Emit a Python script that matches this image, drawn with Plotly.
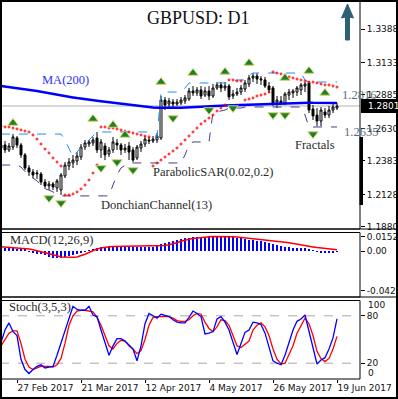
import plotly.graph_objects as go
import pandas as pd

W, H = 398, 399

# ---------------- data ----------------
dates = [d.strftime("%Y-%m-%d") for d in pd.bdate_range("2017-02-21", periods=85)]
tick_dates = ["2017-02-27", "2017-03-21", "2017-04-12", "2017-05-04", "2017-05-26", "2017-06-19"]
tick_labels = ["27 Feb 2017", "21 Mar 2017", "12 Apr 2017", "4 May 2017", "26 May 2017", "19 Jun 2017"]

open_ = [1.2482, 1.2505, 1.2467, 1.2489, 1.2558, 1.2505, 1.2429, 1.2330, 1.2299, 1.2284,
         1.2284, 1.2223, 1.2193, 1.2208, 1.2177, 1.2162, 1.2269, 1.2345, 1.2368, 1.2383,
         1.2413, 1.2489, 1.2512, 1.2520, 1.2558, 1.2467, 1.2497, 1.2436, 1.2467, 1.2520,
         1.2505, 1.2467, 1.2497, 1.2467, 1.2406, 1.2482, 1.2512, 1.2543, 1.2535, 1.2543,
         1.2558, 1.2847, 1.2817, 1.2832, 1.2817, 1.2825, 1.2840, 1.2855, 1.2916, 1.2901,
         1.2924, 1.2885, 1.2916, 1.2878, 1.2939, 1.2962, 1.2939, 1.2954, 1.2878, 1.2893,
         1.2908, 1.2931, 1.2969, 1.3015, 1.3030, 1.3000, 1.3000, 1.2954, 1.2939, 1.2825,
         1.2840, 1.2825, 1.2885, 1.2901, 1.2908, 1.2924, 1.2954, 1.2977, 1.2779, 1.2733,
         1.2687, 1.2756, 1.2733, 1.2771, 1.2786]
high = [1.2543, 1.2535, 1.2520, 1.2588, 1.2573, 1.2520, 1.2444, 1.2352, 1.2322, 1.2314,
        1.2299, 1.2246, 1.2231, 1.2223, 1.2246, 1.2291, 1.2375, 1.2406, 1.2429, 1.2451,
        1.2512, 1.2543, 1.2543, 1.2566, 1.2604, 1.2550, 1.2520, 1.2489, 1.2566, 1.2550,
        1.2520, 1.2512, 1.2528, 1.2489, 1.2505, 1.2535, 1.2573, 1.2566, 1.2573, 1.2596,
        1.2878, 1.2870, 1.2863, 1.2855, 1.2855, 1.2870, 1.2885, 1.2939, 1.2954, 1.2946,
        1.2954, 1.2946, 1.2954, 1.2969, 1.2984, 1.2984, 1.2984, 1.2969, 1.2924, 1.2939,
        1.2962, 1.3000, 1.3038, 1.3053, 1.3053, 1.3030, 1.3023, 1.2984, 1.2954, 1.2878,
        1.2878, 1.2908, 1.2931, 1.2931, 1.2954, 1.2977, 1.2984, 1.2992, 1.2809, 1.2786,
        1.2794, 1.2786, 1.2802, 1.2817, 1.2825]
low = [1.2451, 1.2444, 1.2451, 1.2467, 1.2482, 1.2406, 1.2314, 1.2269, 1.2253, 1.2246,
       1.2200, 1.2170, 1.2162, 1.2162, 1.2147, 1.2124, 1.2253, 1.2314, 1.2330, 1.2352,
       1.2390, 1.2467, 1.2489, 1.2497, 1.2444, 1.2406, 1.2390, 1.2413, 1.2444, 1.2467,
       1.2429, 1.2444, 1.2390, 1.2375, 1.2390, 1.2451, 1.2489, 1.2512, 1.2520, 1.2520,
       1.2543, 1.2771, 1.2794, 1.2786, 1.2802, 1.2809, 1.2817, 1.2840, 1.2878, 1.2878,
       1.2855, 1.2870, 1.2847, 1.2863, 1.2924, 1.2908, 1.2916, 1.2847, 1.2855, 1.2878,
       1.2885, 1.2908, 1.2946, 1.2984, 1.2969, 1.2962, 1.2939, 1.2901, 1.2802, 1.2786,
       1.2809, 1.2809, 1.2847, 1.2863, 1.2878, 1.2885, 1.2908, 1.2748, 1.2695, 1.2649,
       1.2649, 1.2710, 1.2710, 1.2748, 1.2771]
close = [1.2505, 1.2467, 1.2497, 1.2566, 1.2505, 1.2429, 1.2330, 1.2299, 1.2276, 1.2291,
         1.2223, 1.2193, 1.2208, 1.2185, 1.2231, 1.2276, 1.2352, 1.2375, 1.2390, 1.2421,
         1.2489, 1.2520, 1.2528, 1.2543, 1.2467, 1.2528, 1.2429, 1.2467, 1.2528, 1.2505,
         1.2467, 1.2482, 1.2451, 1.2390, 1.2489, 1.2512, 1.2550, 1.2535, 1.2550, 1.2573,
         1.2847, 1.2809, 1.2840, 1.2817, 1.2832, 1.2847, 1.2863, 1.2916, 1.2901, 1.2924,
         1.2878, 1.2916, 1.2878, 1.2939, 1.2962, 1.2939, 1.2954, 1.2870, 1.2893, 1.2908,
         1.2939, 1.2977, 1.3015, 1.3030, 1.3007, 1.3007, 1.2954, 1.2924, 1.2817, 1.2847,
         1.2825, 1.2893, 1.2908, 1.2916, 1.2939, 1.2962, 1.2969, 1.2771, 1.2726, 1.2687,
         1.2771, 1.2733, 1.2771, 1.2794, 1.2802]

ma200 = [1.2954, 1.2950, 1.2947, 1.2943, 1.2940, 1.2936, 1.2932, 1.2928,
         1.2922, 1.2916, 1.2910, 1.2904, 1.2898, 1.2893, 1.2887, 1.2882,
         1.2877, 1.2872, 1.2867, 1.2862, 1.2857, 1.2853, 1.2849, 1.2845,
         1.2842, 1.2838, 1.2834, 1.2830, 1.2826, 1.2822, 1.2818, 1.2814,
         1.2810, 1.2806, 1.2802, 1.2799, 1.2796, 1.2793, 1.2790, 1.2788,
         1.2787, 1.2787, 1.2787, 1.2788, 1.2788, 1.2789, 1.2790, 1.2791,
         1.2792, 1.2793, 1.2795, 1.2797, 1.2799, 1.2801, 1.2803, 1.2804,
         1.2806, 1.2807, 1.2808, 1.2809, 1.2811, 1.2812, 1.2814, 1.2816,
         1.2818, 1.2819, 1.2820, 1.2821, 1.2822, 1.2823, 1.2824, 1.2825,
         1.2825, 1.2826, 1.2826, 1.2826, 1.2827, 1.2827, 1.2826, 1.2826,
         1.2826, 1.2826, 1.2825, 1.2825, 1.2825]

sar = [1.2649, 1.2642, 1.2642, 1.2634, 1.2627, 1.2619, 1.2611, 1.2604, 1.2581, 1.2550,
       1.2512, 1.2474, 1.2444, 1.2406, 1.2375, 1.2345, 1.2124, 1.2124, 1.2132, 1.2147,
       1.2170, 1.2200, 1.2238, 1.2291, 1.2352, 1.2642, 1.2642, 1.2634, 1.2634, 1.2627,
       1.2619, 1.2611, 1.2604, 1.2596, 1.2588, 1.2581, 1.2573, 1.2566, 1.2345, 1.2368,
       1.2390, 1.2413, 1.2436, 1.2459, 1.2482, 1.2512, 1.2543, 1.2573, 1.2604, 1.2634,
       1.2665, 1.2687, 1.2710, 1.2733, 1.2764, 1.2786, 1.2809, 1.3000, 1.3000, 1.2992,
       1.2992, 1.2847, 1.2855, 1.2863, 1.2878, 1.2885, 1.2893, 1.2908, 1.3061, 1.3053,
       1.3046, 1.3038, 1.3023, 1.3015, 1.3007, 1.3000, 1.2992, 1.2984, 1.2984, 1.2977,
       1.2969, 1.2962, 1.2962, 1.2954, 1.2946]

donchian_up = [
    1.2588, 1.2588, 1.2588, 1.2588, 1.2588, 1.2588, 1.2588, 1.2588, 1.2588, 1.2588,
    1.2588, 1.2588, 1.2588, 1.2588, 1.2588, 1.2588, 1.2543, 1.2482, 1.2413, 1.2451,
    1.2489, 1.2520, 1.2543, 1.2573, 1.2604, 1.2604, 1.2604, 1.2604, 1.2604, 1.2604,
    1.2604, 1.2604, 1.2604, 1.2604, 1.2604, 1.2604, 1.2604, 1.2604, 1.2588, 1.2566,
    1.2908, 1.2908, 1.2908, 1.2908, 1.2908, 1.2908, 1.2939, 1.2977, 1.2977, 1.2977,
    1.2977, 1.2977, 1.2977, 1.2977, 1.2977, 1.2977, 1.2977, 1.2977, 1.2992, 1.3000,
    1.3000, 1.3000, 1.3038, 1.3053, 1.3053, 1.3053, 1.3053, 1.3053, 1.3053, 1.3053,
    1.3053, 1.3053, 1.3053, 1.3053, 1.3053, 1.3053, 1.3000, 1.2984, 1.2984, 1.2984,
    1.2984, 1.2984, 1.2984, 1.2984, 1.2984]
donchian_low = [
    1.2352, 1.2352, 1.2352, 1.2352, 1.2352, 1.2337, 1.2299, 1.2269, 1.2253, 1.2231,
    1.2200, 1.2170, 1.2162, 1.2147, 1.2132, 1.2117, 1.2117, 1.2117, 1.2117, 1.2117,
    1.2117, 1.2117, 1.2117, 1.2117, 1.2117, 1.2117, 1.2117, 1.2117, 1.2200, 1.2276,
    1.2330, 1.2352, 1.2368, 1.2368, 1.2368, 1.2368, 1.2368, 1.2368, 1.2368, 1.2368,
    1.2368, 1.2368, 1.2368, 1.2368, 1.2368, 1.2368, 1.2429, 1.2505, 1.2528, 1.2528,
    1.2528, 1.2528, 1.2528, 1.2756, 1.2756, 1.2764, 1.2771, 1.2786, 1.2786, 1.2786,
    1.2786, 1.2794, 1.2794, 1.2794, 1.2794, 1.2794, 1.2794, 1.2794, 1.2794, 1.2794,
    1.2794, 1.2794, 1.2794, 1.2794, 1.2794, 1.2794, 1.2733, 1.2642, 1.2642, 1.2642,
    1.2642, 1.2642, 1.2642, 1.2642, 1.2642]

fractal_up_dates = ["2017-02-24", "2017-03-24", "2017-03-31", "2017-04-05", "2017-04-18",
                    "2017-04-28", "2017-05-10", "2017-05-18", "2017-05-31", "2017-06-08",
                    "2017-06-14"]
fractal_up = [1.2672, 1.2703, 1.2657, 1.2581, 1.2984, 1.3053, 1.3061, 1.3129, 1.3015,
              1.3068, 1.2901]
fractal_dn_dates = ["2017-03-09", "2017-03-14", "2017-03-28", "2017-04-03", "2017-04-07",
                    "2017-04-21", "2017-05-04", "2017-05-12", "2017-05-26", "2017-05-31",
                    "2017-06-09"]
fractal_dn = [1.2101, 1.2063, 1.2330, 1.2375, 1.2314, 1.2710, 1.2771, 1.2786, 1.2733,
              1.2733, 1.2588]

macd_hist = [0.0027, 0.0027, 0.0027, 0.0029, 0.0025, 0.0021, 0.0016, -0.0005, -0.0016, -0.0027,
             -0.0037, -0.0048, -0.0059, -0.0070, -0.0073, -0.0073, -0.0064, -0.0054, -0.0043, -0.0030,
             -0.0019, -0.0005, 0.0009, 0.0021, 0.0032, 0.0041, 0.0043, 0.0043, 0.0045, 0.0045,
             0.0046, 0.0045, 0.0043, 0.0041, 0.0043, 0.0045, 0.0046, 0.0046, 0.0048, 0.0059,
             0.0075, 0.0086, 0.0096, 0.0107, 0.0118, 0.0128, 0.0137, 0.0142, 0.0150, 0.0152,
             0.0153, 0.0154, 0.0155, 0.0155, 0.0154, 0.0153, 0.0152, 0.0151, 0.0150, 0.0142,
             0.0136, 0.0128, 0.0118, 0.0116, 0.0110, 0.0107, 0.0096, 0.0089, 0.0078, 0.0064,
             0.0054, 0.0046, 0.0040, 0.0035, 0.0035, 0.0035, 0.0035, 0.0021, 0.0005, -0.0005,
             -0.0011, -0.0014, -0.0014, -0.0014, -0.0009]
macd_signal = [0.0046, 0.0043, 0.0040, 0.0036, 0.0032, 0.0029, 0.0025, 0.0021, 0.0013, 0.0003,
               -0.0006, -0.0016, -0.0025, -0.0037, -0.0051, -0.0064, -0.0067, -0.0068, -0.0067, -0.0064,
               -0.0051, -0.0035, -0.0016, 0.0003, 0.0021, 0.0032, 0.0041, 0.0046, 0.0048, 0.0049,
               0.0050, 0.0050, 0.0051, 0.0051, 0.0051, 0.0052, 0.0052, 0.0052, 0.0054, 0.0054,
               0.0054, 0.0059, 0.0066, 0.0075, 0.0089, 0.0104, 0.0118, 0.0126, 0.0134, 0.0140,
               0.0147, 0.0150, 0.0153, 0.0156, 0.0157, 0.0157, 0.0156, 0.0155, 0.0153, 0.0150,
               0.0146, 0.0140, 0.0134, 0.0128, 0.0124, 0.0121, 0.0118, 0.0113, 0.0109, 0.0104,
               0.0100, 0.0094, 0.0088, 0.0082, 0.0074, 0.0065, 0.0057, 0.0050, 0.0044, 0.0037,
               0.0032, 0.0028, 0.0022, 0.0018, 0.0014]

stoch_k = [46, 62, 71, 60, 55, 25, 12, 7, 12, 16,
           18, 14, 15, 16, 30, 45, 60, 76, 92, 88,
           87, 87, 92, 81, 79, 62, 45, 30, 42, 51,
           51, 48, 43, 38, 23, 42, 70, 83, 80, 77,
           82, 80, 79, 75, 72, 71, 71, 78, 86, 83,
           79, 57, 58, 60, 76, 79, 72, 62, 45, 31,
           45, 59, 62, 72, 71, 69, 58, 40, 23, 20,
           18, 30, 45, 62, 73, 76, 81, 60, 38, 19,
           24, 27, 38, 52, 76]
stoch_d = [42, 50, 58, 61, 61, 45, 25, 15, 12, 14,
           16, 16, 16, 15, 18, 26, 45, 68, 80, 86,
           87, 87, 86, 85, 78, 68, 55, 42, 38, 45,
           49, 48, 42, 38, 32, 36, 50, 68, 78, 79,
           79, 79, 79, 77, 74, 73, 73, 75, 80, 83,
           82, 72, 64, 60, 66, 75, 74, 68, 55, 42,
           40, 44, 48, 62, 68, 71, 66, 55, 38, 25,
           19, 20, 30, 42, 58, 68, 77, 70, 55, 35,
           26, 22, 26, 38, 54]

price_ticks = [1.33881, 1.31331, 1.28856, 1.26306, 1.23831, 1.21281, 1.18806]
macd_ticks = [0.01525, 0.0, -0.04214]
macd_tick_labels = ["0.01525", "0.00", "-0.04214"]
stoch_level_ticks = [80, 20]
stoch_edge_labels = ["100", "0"]
last_price = 1.28018

# ---------------- helpers (pixel -> paper) ----------------
def px(x):
    return x / W


def py(y):
    return 1 - y / H


X_END = 360
MAIN = (0, 229)
MACD = (232, 297)
STO = (300, 379)

fig = go.Figure()

# main panel
fig.add_trace(go.Candlestick(
    x=dates, open=open_, high=high, low=low, close=close,
    increasing=dict(line=dict(color="black", width=1), fillcolor="white"),
    decreasing=dict(line=dict(color="black", width=1), fillcolor="black"),
    whiskerwidth=0, xaxis="x", yaxis="y", hoverinfo="skip"))
fig.add_trace(go.Scatter(x=dates, y=donchian_up, mode="lines", xaxis="x", yaxis="y",
                         line=dict(color="#1e8fff", width=1, dash="dash")))
fig.add_trace(go.Scatter(x=dates, y=donchian_low, mode="lines", xaxis="x", yaxis="y",
                         line=dict(color="#483d8b", width=1, dash="dash")))
fig.add_trace(go.Scatter(x=dates, y=ma200, mode="lines", xaxis="x", yaxis="y",
                         line=dict(color="#0000ff", width=2.5)))
fig.add_trace(go.Scatter(x=dates, y=sar, mode="markers", xaxis="x", yaxis="y",
                         marker=dict(symbol="circle-open", size=2, color="red",
                                     line=dict(color="red", width=1))))
fig.add_trace(go.Scatter(x=fractal_up_dates, y=fractal_up, mode="markers", xaxis="x", yaxis="y",
                         marker=dict(symbol="triangle-up", size=9, color="#1f7f2a",
                                     line=dict(color="#cfd86a", width=1))))
fig.add_trace(go.Scatter(x=fractal_dn_dates, y=fractal_dn, mode="markers", xaxis="x", yaxis="y",
                         marker=dict(symbol="triangle-down", size=9, color="#1f7f2a",
                                     line=dict(color="#cfd86a", width=1))))

# MACD panel
fig.add_trace(go.Bar(x=dates, y=macd_hist, xaxis="x2", yaxis="y2", width=0.25,
                     marker=dict(color="#0000ff", line=dict(width=0))))
fig.add_trace(go.Scatter(x=dates, y=macd_signal, mode="lines", xaxis="x2", yaxis="y2",
                         line=dict(color="red", width=1.5)))

# Stochastic panel
fig.add_trace(go.Scatter(x=dates, y=stoch_d, mode="lines", xaxis="x3", yaxis="y3",
                         line=dict(color="red", width=1.3)))
fig.add_trace(go.Scatter(x=dates, y=stoch_k, mode="lines", xaxis="x3", yaxis="y3",
                         line=dict(color="blue", width=1.3)))

tickfont = dict(family="DejaVu Sans", size=9, color="#111111")
xr = [-0.25, 89.75]
common_x = dict(domain=[0, px(X_END)], type="category", categoryorder="array",
                categoryarray=dates, range=xr, showgrid=False, zeroline=False,
                showline=False, automargin=False, tickangle=0)
common_y = dict(side="right", ticks="outside", ticklen=4, tickcolor="black",
                tickfont=tickfont, showgrid=False, zeroline=False, automargin=False,
                tickmode="array")

fig.update_layout(
    width=W, height=H, margin=dict(l=0, r=0, t=0, b=0, autoexpand=False),
    paper_bgcolor="white", plot_bgcolor="white", showlegend=False,
    hovermode=False, bargap=0,
    xaxis=dict(**common_x, anchor="y", showticklabels=False, ticks="",
               rangeslider=dict(visible=False)),
    xaxis2=dict(**common_x, anchor="y2", matches="x", showticklabels=False, ticks=""),
    xaxis3=dict(**common_x, anchor="y3", matches="x", tickmode="array",
                tickvals=tick_dates, ticktext=tick_labels, ticks="outside", ticklen=3,
                tickcolor="black", tickfont=tickfont, ticklabelposition="outside right"),
    yaxis=dict(**common_y, domain=[py(MAIN[1]), py(MAIN[0])], anchor="x",
               range=[1.3609 - 229 * 0.0007616, 1.3609],
               tickvals=price_ticks, tickformat=".5f"),
    yaxis2=dict(**common_y, domain=[py(MACD[1]), py(MACD[0])], anchor="x2",
                range=[-46 * 0.00107, 19 * 0.00107],
                tickvals=macd_ticks, ticktext=macd_tick_labels),
    yaxis3=dict(**common_y, domain=[py(STO[1]), py(STO[0])], anchor="x3",
                range=[0, 100], tickvals=stoch_level_ticks),
)

shapes = []
# current price line
shapes.append(dict(type="line", xref="paper", yref="y", x0=0, x1=px(X_END),
                   y0=last_price, y1=last_price, line=dict(color="#b4b4b4", width=1),
                   layer="below"))
# stochastic levels
for lvl in stoch_level_ticks:
    shapes.append(dict(type="line", xref="paper", yref="y3", x0=0, x1=px(X_END),
                       y0=lvl, y1=lvl, line=dict(color="#a8a8a8", width=1, dash="dash"),
                       layer="below"))
# panel boxes
for (t, b) in (MAIN, MACD, STO):
    shapes.append(dict(type="rect", xref="paper", yref="paper", x0=px(0.5), x1=px(X_END),
                       y0=py(b), y1=py(t + 0.5), line=dict(color="black", width=1)))
# full-width separators
for y in (229, 297):
    shapes.append(dict(type="line", xref="paper", yref="paper", x0=0, x1=1,
                       y0=py(y), y1=py(y), line=dict(color="black", width=1)))
# outer border
shapes.append(dict(type="rect", xref="paper", yref="paper", x0=px(1), x1=px(W - 1),
                   y0=py(H - 1), y1=py(1), line=dict(color="black", width=2)))
# black bar on the price scale
shapes.append(dict(type="rect", xref="paper", yref="paper", x0=px(359.5), x1=px(363),
                   y0=py(205), y1=py(137), fillcolor="black", line=dict(width=0)))
# current price box
shapes.append(dict(type="rect", xref="paper", yref="paper", x0=px(361), x1=px(W),
                   y0=py(113), y1=py(99), fillcolor="black", line=dict(width=0)))
# trend arrow
pts = [(345.5, 40), (349.5, 40), (349.5, 17), (353.5, 18), (347.5, 4), (341.5, 18), (345.5, 17)]
path = "M " + " L ".join(f"{px(x):.5f},{py(y):.5f}" for x, y in pts) + " Z"
shapes.append(dict(type="path", xref="paper", yref="paper", path=path,
                   fillcolor="#2b6273", line=dict(color="#2b6273", width=1)))
fig.update_layout(shapes=shapes)

serif = "Liberation Serif"
ann = []


def label(text, x, y, size=12.5, color="#2a2a2a", family=serif, anchor="left"):
    ann.append(dict(text=text, xref="paper", yref="paper", x=px(x), y=py(y),
                    xanchor=anchor, yanchor="middle", showarrow=False,
                    font=dict(family=family, size=size, color=color)))


label("GBPUSD: D1", 198, 18, size=18, color="#111111", anchor="center")
label("MA(200)", 40, 80, color="#2f2fff")
label("1.2816", 340, 95, color="#56707e")
label("1.2635", 342, 132, color="#56707e")
label("Fractals", 293, 145)
label("ParabolicSAR(0.02,0.2)", 151, 172)
label("DonchianChannel(13)", 99, 205)
label("MACD(12,26,9)", 8, 240)
label("Stoch(3,5,3)", 7, 307)
label("1.28018", 366, 106, size=9, color="white", family="DejaVu Sans")
# stochastic scale edge labels (drawn inside the panel like the reference)
label(stoch_edge_labels[0], 366, 305, size=9, color="#111111", family="DejaVu Sans")
label(stoch_edge_labels[1], 366, 373, size=9, color="#111111", family="DejaVu Sans")
fig.update_layout(annotations=ann)

fig.write_html("out.html", config={"displayModeBar": False},
               post_script="document.body.style.margin='0px';document.body.style.overflow='hidden';")
